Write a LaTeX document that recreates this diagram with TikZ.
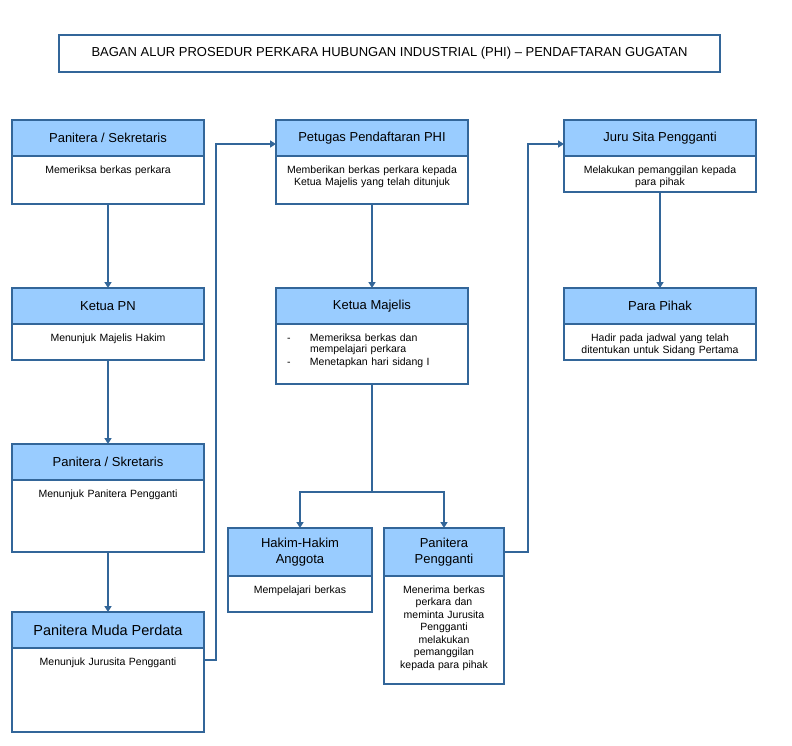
\documentclass[tikz,border=0pt]{standalone}
\usepackage{fontspec}
\setmainfont{Liberation Sans}
\usepackage{tikz}
\usetikzlibrary{shapes,arrows.meta,positioning}
\definecolor{boxblue}{RGB}{51,102,153}
\definecolor{headblue}{RGB}{153,204,255}
\tikzstyle{titlebox} = [rectangle,minimum width=661pt,minimum height=37pt,text centered,draw=boxblue,line width=1.8pt,font=\fontsize{13pt}{15pt}\selectfont]
\tikzstyle{head} = [rectangle,minimum width=192pt,minimum height=36pt,inner xsep=4pt,outer sep=0pt,align=center,draw=boxblue,line width=1.8pt,fill=headblue,font=\fontsize{13pt}{15.5pt}\selectfont]
\tikzstyle{body} = [rectangle,text width=184pt,inner xsep=4pt,inner ysep=4pt,outer sep=0pt,text height=13pt,align=center,draw=boxblue,line width=1.8pt,fill=white,font=\fontsize{10.5pt}{12.5pt}\selectfont]
\tikzstyle{link} = [draw=boxblue,line width=1.8pt]
\tikzstyle{arrow} = [link,-{Triangle[length=6pt,width=7pt]}]
\begin{document}
\begin{tikzpicture}[x=1pt,y=-1pt]
\useasboundingbox (0,0) rectangle (792,745);
\node (title) [titlebox] at (389.5,53.5) {BAGAN ALUR PROSEDUR PERKARA HUBUNGAN INDUSTRIAL (PHI) – PENDAFTARAN GUGATAN};

% kolom kiri
\node (sekretaris) [head,anchor=north west] at (12,120) {Panitera / Sekretaris};
\node (sekretarisB) [body,below=0pt of sekretaris,text depth=27pt] {Memeriksa berkas perkara};
\node (ketuapn) [head,anchor=north west] at (12,288) {Ketua PN};
\node (ketuapnB) [body,below=0pt of ketuapn,text depth=15pt] {Menunjuk Majelis Hakim};
\node (skretaris) [head,anchor=north west] at (12,444) {Panitera / Skretaris};
\node (skretarisB) [body,below=0pt of skretaris,text depth=51pt] {Menunjuk Panitera Pengganti};
\node (muda) [head,anchor=north west,font=\fontsize{14.5pt}{17pt}\selectfont] at (12,612) {Panitera Muda Perdata};
\node (mudaB) [body,below=0pt of muda,text depth=63pt] {Menunjuk Jurusita Pengganti};

% kolom tengah
\node (petugas) [head,anchor=north west] at (276,120) {Petugas Pendaftaran PHI};
\node (petugasB) [body,below=0pt of petugas,text depth=27pt] {Memberikan berkas perkara kepada\\Ketua Majelis yang telah ditunjuk};
\node (majelis) [head,anchor=north west] at (276,288) {Ketua Majelis};
\node (majelisB) [body,below=0pt of majelis,text depth=39pt,align=left] {\makebox[30pt][l]{\hspace{7pt}-}Memeriksa berkas dan\\[-1pt]\hspace*{30pt}mempelajari perkara\\[0.5pt]\makebox[30pt][l]{\hspace{7pt}-}Menetapkan hari sidang I};
\node (hakim) [head,anchor=north west,minimum width=144pt,minimum height=48pt] at (228,528) {Hakim-Hakim\\Anggota};
\node (hakimB) [body,below=0pt of hakim,text width=136pt,text depth=15pt] {Mempelajari berkas};
\node (pengganti) [head,anchor=north west,minimum width=120pt,minimum height=48pt] at (384,528) {Panitera\\Pengganti};
\node (penggantiB) [body,below=0pt of pengganti,text width=112pt,text depth=87pt] {Menerima berkas\\perkara dan\\meminta Jurusita\\Pengganti\\melakukan\\pemanggilan\\kepada para pihak};

% kolom kanan
\node (jurusita) [head,anchor=north west] at (564,120) {Juru Sita Pengganti};
\node (jurusitaB) [body,below=0pt of jurusita,text depth=15pt] {Melakukan pemanggilan kepada\\para pihak};
\node (pihak) [head,anchor=north west] at (564,288) {Para Pihak};
\node (pihakB) [body,below=0pt of pihak,text depth=15pt] {Hadir pada jadwal yang telah\\ditentukan untuk Sidang Pertama};

\coordinate (cabang) at (372,492);
\draw [arrow] (sekretarisB) -- (ketuapn);
\draw [arrow] (ketuapnB) -- (skretaris);
\draw [arrow] (skretarisB) -- (muda);
\draw [arrow] ([yshift=30pt]mudaB.east) -- ++(12,0) |- ([yshift=-6pt]petugas.west);
\draw [arrow] (petugasB) -- (majelis);
\draw [link] (majelisB.south) -- (cabang);
\draw [arrow] (cabang) -| (hakim);
\draw [arrow] (cabang) -| (pengganti);
\draw [arrow] (pengganti.east) -- ++(24,0) |- ([yshift=-6pt]jurusita.west);
\draw [arrow] (jurusitaB) -- (pihak);
\end{tikzpicture}
\end{document}
